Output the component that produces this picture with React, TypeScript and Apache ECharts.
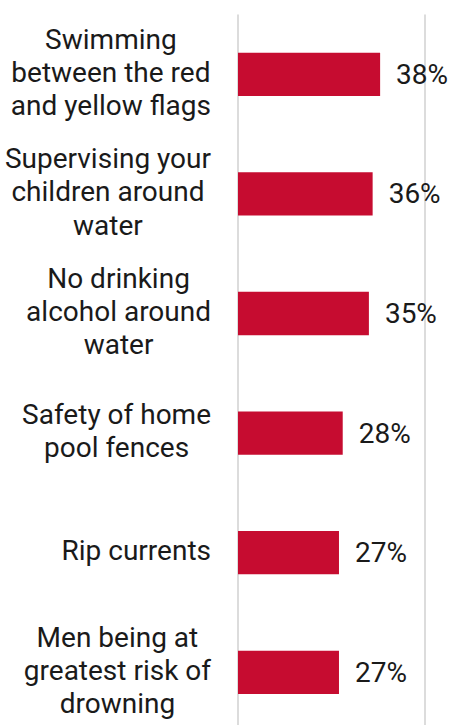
import React, { useEffect, useRef } from "react";
import * as echarts from "echarts";

const categories: string[] = [
  "Swimming\nbetween the red\nand yellow flags",
  "Supervising your\nchildren around\nwater",
  "No drinking\nalcohol around\nwater",
  "Safety of home\npool fences",
  "Rip currents",
  "Men being at\ngreatest risk of\ndrowning",
];
const values: number[] = [38, 36, 35, 28, 27, 27];
const axisMin = 0;
const axisMax = 50;
const axisInterval = 50;

export default function App() {
  const ref = useRef<HTMLDivElement>(null);
  useEffect(() => {
    if (!ref.current) return;
    const chart = echarts.init(ref.current, null, { renderer: "svg" });
    const font = "Roboto, 'Noto Sans', sans-serif";
    chart.setOption({
      animation: false,
      backgroundColor: "#ffffff",
      grid: {
        left: 238,
        width: 187,
        top: 14.5,
        height: 717.6,
        containLabel: false,
        outerBoundsMode: "none",
      },
      xAxis: {
        type: "value",
        min: axisMin,
        max: axisMax,
        interval: axisInterval,
        axisLabel: { show: false },
        axisLine: { show: false },
        axisTick: { show: false },
        splitLine: { show: true, lineStyle: { color: "#dcdcdc", width: 2 } },
      },
      yAxis: {
        type: "category",
        inverse: true,
        data: categories,
        axisLine: { show: false },
        axisTick: { show: false },
        splitLine: { show: false },
        axisLabel: {
          margin: 27,
          align: "right",
          padding: [0, 0, 4, 0],
          color: "#1a1a1a",
          fontFamily: font,
          fontSize: 28,
          lineHeight: 33.3,
          formatter: (v: string) =>
            v
              .split("\n")
              .map((l) => `{c|${l}}`)
              .join("\n"),
          rich: {
            c: {
              align: "center",
              color: "#1a1a1a",
              fontFamily: font,
              fontSize: 28,
              lineHeight: 33.3,
            },
          },
        },
      },
      series: [
        {
          type: "bar",
          data: values,
          barWidth: 43.3,
          itemStyle: { color: "#C60C30" },
          label: {
            show: true,
            position: "right",
            distance: 16,
            formatter: "{c}%",
            color: "#1a1a1a",
            fontFamily: font,
            fontSize: 28,
          },
        },
      ],
    });
    return () => chart.dispose();
  }, []);
  return (
    <div
      ref={ref}
      style={{ position: "absolute", left: 0, top: 0, width: 451, height: 725 }}
    />
  );
}
